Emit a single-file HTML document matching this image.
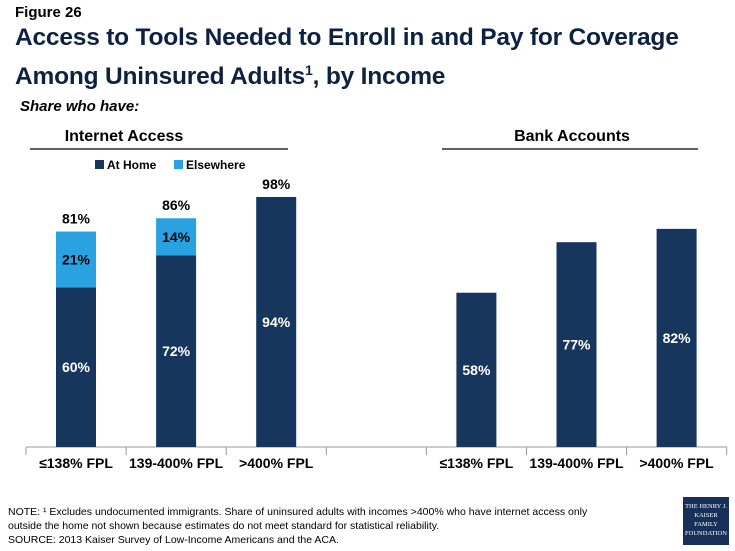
<!DOCTYPE html>
<html><head><meta charset="utf-8"><style>
body{margin:0;width:735px;height:551px;background:#fff;font-family:"Liberation Sans",sans-serif;overflow:hidden;position:relative}
.t{position:absolute;color:#000}
</style></head><body>
<div class="t" style="left:15px;top:4px;font-size:15px;font-weight:bold">Figure 26</div>
<div class="t" style="left:15px;top:21px;font-size:24.5px;letter-spacing:-0.2px;font-weight:bold;line-height:33px;color:#0d2240">Access to Tools Needed to Enroll in and Pay for Coverage<br>Among Uninsured Adults<sup style="font-size:14px">1</sup>, by Income</div>
<div class="t" style="left:20px;top:98px;font-size:15px;font-weight:bold;font-style:italic">Share who have:</div>
<svg id="chart" width="735" height="551" style="position:absolute;left:0;top:0"></svg>
<div class="t" style="left:8px;top:505px;font-size:10.5px;line-height:14px">NOTE: ¹ Excludes undocumented immigrants. Share of uninsured adults with incomes &gt;400% who have internet access only<br>outside the home not shown because estimates do not meet standard for statistical reliability.<br>SOURCE: 2013 Kaiser Survey of Low-Income Americans and the ACA.</div>
<div style="position:absolute;left:683px;top:497px;width:46px;height:48px;background:#17305a;color:#fff;font-family:'Liberation Serif',serif;font-size:6.5px;text-align:center;line-height:9px;padding-top:5px;box-sizing:border-box;overflow:hidden">THE HENRY J.<br>KAISER<br>FAMILY<br>FOUNDATION</div>
<script>
const categories=["≤138% FPL","139-400% FPL",">400% FPL"];
const atHome=[60,72,94];
const elsewhere=[21,14,null];
const internetTotal=["81%","86%","98%"];
const bank=[58,77,82];
const NS="http://www.w3.org/2000/svg";
const svg=document.getElementById("chart");
const base=447, scale=2.66, barW=40;
function y(v){return base-v*scale;}
function xc(i){return 76+100.1*i;}
function mk(tag,attrs,txt){const e=document.createElementNS(NS,tag);for(const k in attrs)e.setAttribute(k,attrs[k]);if(txt!=null)e.textContent=txt;svg.appendChild(e);return e;}
let e;
e=mk("text",{x:124,y:141,"text-anchor":"middle","font-size":16,"font-weight":"bold"},"Internet Access");


e=mk("line",{x1:30,y1:149,x2:288,y2:149,stroke:"#000","stroke-width":1.2});


e=mk("text",{x:572,y:141,"text-anchor":"middle","font-size":16,"font-weight":"bold"},"Bank Accounts");


e=mk("line",{x1:442,y1:149,x2:698,y2:149,stroke:"#000","stroke-width":1.2});


e=mk("rect",{x:95,y:160,width:9,height:9,fill:"#17365d"});


e=mk("text",{x:107,y:169,"font-size":12,"font-weight":"bold"},"At Home");


e=mk("rect",{x:174,y:160,width:9,height:9,fill:"#2aa1e1"});


e=mk("text",{x:186,y:169,"font-size":12,"font-weight":"bold"},"Elsewhere");


e=mk("line",{x1:26,y1:base,x2:727,y2:base,stroke:"#999","stroke-width":1});


for(let i=0;i<8;i++){
 e=mk("line",{x1:26+100.1*i,y1:base,x2:26+100.1*i,y2:base+8,stroke:"#999","stroke-width":1});
 
 
}
function bar(x,v0,v1,color,name){
 const r=mk("rect",{x:x-barW/2,y:y(v1),width:barW,height:(v1-v0)*scale,fill:color});
 
 
}
function lbl(x,yy,t,c,name){
 const s=mk("text",{x:x,y:yy,"text-anchor":"middle","font-size":14,"font-weight":"bold",fill:c},t);
 
 
}
categories.forEach((c,i)=>{
 const x=xc(i);
 bar(x,0,atHome[i],"#17365d","bar-internet-home");
 lbl(x,y(atHome[i]/2)+5,atHome[i]+"%","#fff","value-internet-home");
 let top=atHome[i];
 if(elsewhere[i]!=null){
  bar(x,atHome[i],atHome[i]+elsewhere[i],"#2aa1e1","bar-internet-elsewhere");
  lbl(x,y(atHome[i]+elsewhere[i]/2)+5,elsewhere[i]+"%","#000","value-internet-elsewhere");
  top+=elsewhere[i];
 }
 lbl(x,y(top)-8,internetTotal[i],"#000","value-internet-total");
 lbl(x,468,c,"#000","x-label-internet");
 const xb=xc(i+4);
 bar(xb,0,bank[i],"#17365d","bar-bank");
 lbl(xb,y(bank[i]/2)+5,bank[i]+"%","#fff","value-bank");
 lbl(xb,468,c,"#000","x-label-bank");
});
</script>
</body></html>
